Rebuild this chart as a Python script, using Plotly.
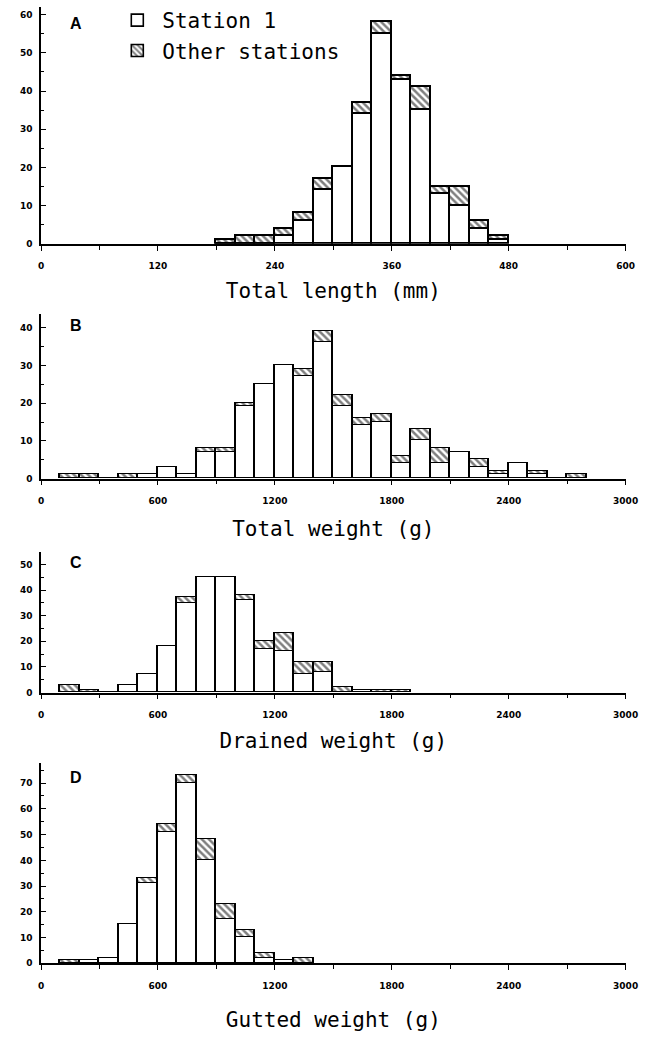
import plotly.graph_objects as go

# ---------------- data ----------------
# Panel A: total length (mm), 20 mm bins
A_bin_start = [180, 200, 220, 240, 260, 280, 300, 320, 340, 360, 380, 400, 420, 440, 460]
A_station1 = [0, 0, 0, 2, 6, 14, 20, 34, 55, 43, 35, 13, 10, 4, 1]
A_other = [1, 2, 2, 2, 2, 3, 0, 3, 3, 1, 6, 2, 5, 2, 1]

# Panel B: total weight (g), 100 g bins
B_bin_start = [100, 200, 300, 400, 500, 600, 700, 800, 900, 1000, 1100, 1200, 1300, 1400,
               1500, 1600, 1700, 1800, 1900, 2000, 2100, 2200, 2300, 2400, 2500, 2600, 2700]
B_station1 = [0, 0, 0, 0, 1, 3, 1, 7, 7, 19, 25, 30, 27, 36,
              19, 14, 15, 4, 10, 4, 7, 3, 1, 4, 1, 0, 0]
B_other = [1, 1, 0, 1, 0, 0, 0, 1, 1, 1, 0, 0, 2, 3,
           3, 2, 2, 2, 3, 4, 0, 2, 1, 0, 1, 0, 1]

# Panel C: drained weight (g), 100 g bins
C_bin_start = [100, 200, 300, 400, 500, 600, 700, 800, 900, 1000, 1100, 1200, 1300, 1400,
               1500, 1600, 1700, 1800]
C_station1 = [0, 0, 0, 3, 7, 18, 35, 45, 45, 36, 17, 16, 7, 8, 0, 1, 0, 0]
C_other = [3, 1, 0, 0, 0, 0, 2, 0, 0, 2, 3, 7, 5, 4, 2, 0, 1, 1]

# Panel D: gutted weight (g), 100 g bins
D_bin_start = [100, 200, 300, 400, 500, 600, 700, 800, 900, 1000, 1100, 1200, 1300]
D_station1 = [0, 1, 2, 15, 31, 51, 70, 40, 17, 10, 2, 1, 0]
D_other = [1, 0, 0, 0, 2, 3, 3, 8, 6, 3, 2, 0, 2]

panel_letters = ["A", "B", "C", "D"]
axis_titles = ["Total length (mm)", "Total weight (g)", "Drained weight (g)", "Gutted weight (g)"]
series_names = ["Station 1", "Other stations"]

# ---------------- layout helpers ----------------
H = 1037
W = 664
def ydom(bottom_px, top_px):
    return [1 - bottom_px / H, 1 - top_px / H]

x_domain = [39 / W, 638 / W]

panels = [
    dict(starts=A_bin_start, bw=20, s1=A_station1, ot=A_other, xr=[0, 600], xmaj=120, xmin=60,
         yr=[0, 62], ydom=ydom(245, 7), standoff=13),
    dict(starts=B_bin_start, bw=100, s1=B_station1, ot=B_other, xr=[0, 3000], xmaj=600, xmin=300,
         yr=[0, 43.5], ydom=ydom(481, 316), standoff=16),
    dict(starts=C_bin_start, bw=100, s1=C_station1, ot=C_other, xr=[0, 3000], xmaj=600, xmin=300,
         yr=[0, 54.7], ydom=ydom(696, 555), standoff=14),
    dict(starts=D_bin_start, bw=100, s1=D_station1, ot=D_other, xr=[0, 3000], xmaj=600, xmin=300,
         yr=[0, 77.7], ydom=ydom(968, 767), standoff=22),
]

fig = go.Figure()
outline = dict(color="black", width=1.6)
tickfont = dict(family="DejaVu Sans", size=9, color="black", weight="bold")
mono = "DejaVu Sans Mono"

layout_axes = {}
annotations = []
for i, p in enumerate(panels):
    n = i + 1
    xa = "x" if n == 1 else f"x{n}"
    ya = "y" if n == 1 else f"y{n}"
    centers = [s + p["bw"] / 2 for s in p["starts"]]
    fig.add_trace(go.Bar(
        x=centers, y=p["s1"], width=p["bw"], name=series_names[0],
        marker=dict(color="white", line=outline),
        xaxis=xa, yaxis=ya, showlegend=(i == 0), legendgroup="s1",
    ))
    fig.add_trace(go.Bar(
        x=centers, y=p["ot"], width=p["bw"], name=series_names[1],
        marker=dict(color="white", line=outline,
                    pattern=dict(shape="\\", fgcolor="black", bgcolor="white",
                                 size=5, solidity=0.5)),
        xaxis=xa, yaxis=ya, showlegend=(i == 0), legendgroup="ot",
    ))
    xkey = "xaxis" if n == 1 else f"xaxis{n}"
    ykey = "yaxis" if n == 1 else f"yaxis{n}"
    layout_axes[xkey] = dict(
        domain=x_domain, range=p["xr"], anchor=ya,
        showline=True, linecolor="black", linewidth=1.5,
        ticks="outside", ticklen=5, tickwidth=1.3, tickcolor="black",
        dtick=p["xmaj"], tick0=0,
        minor=dict(dtick=p["xmin"], ticks="outside", ticklen=4, tickwidth=1.2, tickcolor="black"),
        showgrid=False, zeroline=False, tickfont=tickfont, ticklabelstandoff=8,
        title=dict(text=axis_titles[i], font=dict(family=mono, size=21, color="black"),
                   standoff=p["standoff"]),
        fixedrange=True,
    )
    layout_axes[ykey] = dict(
        domain=p["ydom"], range=p["yr"], anchor=xa,
        showline=True, linecolor="black", linewidth=1.5,
        ticks="inside", ticklen=5, tickwidth=1.3, tickcolor="black",
        dtick=10, tick0=0,
        minor=dict(dtick=5, ticks="inside", ticklen=3, tickwidth=1.1, tickcolor="black"),
        showgrid=False, zeroline=False, tickfont=tickfont, ticklabelstandoff=5,
        fixedrange=True,
    )
    annotations.append(dict(
        text=panel_letters[i], xref=f"{xa} domain", yref=f"{ya} domain",
        x=0.06, y=0.93, showarrow=False, xanchor="center", yanchor="middle",
        font=dict(family="Liberation Sans", size=16, color="black", weight="bold"),
    ))

fig.update_layout(
    width=W, height=H,
    margin=dict(l=0, r=0, t=0, b=0),
    paper_bgcolor="white", plot_bgcolor="white",
    barmode="stack", bargap=0,
    showlegend=True,
    legend=dict(x=112 / W, y=1.0, xanchor="left", yanchor="top",
                font=dict(family=mono, size=21, color="black"),
                bgcolor="rgba(0,0,0,0)", tracegroupgap=16, itemwidth=40,
                traceorder="normal"),
    annotations=annotations,
    **layout_axes,
)

fig.write_html("out.html", config={"displayModeBar": False},
               post_script="document.body.style.margin='0px';")
